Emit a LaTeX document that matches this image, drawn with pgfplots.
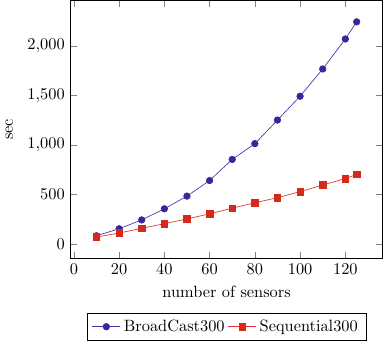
\documentclass[border=0pt]{standalone}
\usepackage{pgfplots}
\pgfplotsset{compat=1.18}
\definecolor{bcol}{HTML}{4A2FB0}
\definecolor{bfill}{HTML}{3B2699}
\definecolor{rcol}{HTML}{E0302A}
\definecolor{rfill}{HTML}{D42A1C}
\begin{document}
\begin{tikzpicture}
\begin{axis}[
  scale only axis,
  width=191pt, height=158pt,
  xlabel={number of sensors},
  ylabel={sec},
  ylabel style={yshift=2pt},
  legend style={at={(0.5,-0.21)}, anchor=north, legend columns=-1},
]
\addplot[color=bcol, mark=*, mark options={fill=bfill, draw=bfill}] coordinates {
(10,84) (20,155) (30,244) (40,356) (50,484) (60,641) (70,854) (80,1013) (90,1251) (100,1491) (110,1766) (120,2068) (125,2241)
};
\addlegendentry{BroadCast300}
\addplot[color=rcol, mark=square*, mark options={fill=rfill, draw=rfill}] coordinates {
(10,71) (20,112) (30,159) (40,206) (50,254) (60,305) (70,362) (80,417) (90,468) (100,529) (110,596) (120,661) (125,702)
};
\addlegendentry{Sequential300}
\end{axis}
\end{tikzpicture}
\end{document}
